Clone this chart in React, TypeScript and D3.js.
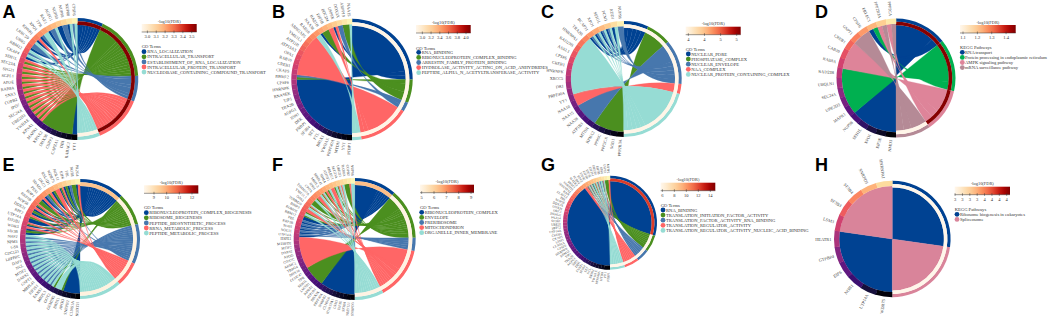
import React from 'react';
import * as d3 from 'd3';

const width = 1052;
const height = 319;
const serif = '"Liberation Serif", serif';

// term colours
const goColors = ['#004292', '#4b8f1f', '#4777ad', '#ff6666', '#96dcd4'];
const keggColorsD = ['#004292', '#00b050', '#de8499', '#b58a96'];
const keggColorsH = ['#004292', '#d9849a'];

// every gene is listed from the bottom of the circle up to the top,
// links holds the indexes of the terms it belongs to
const termsA = ['RNA_LOCALIZATION', 'INTRACELLULAR_TRANSPORT', 'ESTABLISHMENT_OF_RNA_LOCALIZATION', 'INTRACELLULAR_PROTEIN_TRANSPORT', 'NUCLEOBASE_CONTAINING_COMPOUND_TRANSPORT'];
const fdrA = [3.55, 3.55, 3.55, 3.55, 2.95];
const ticksA = [3.0, 3.1, 3.2, 3.3, 3.4, 3.5];
const genesA = ['YY1', 'RABAC1', 'DBI', 'CAPZA1', 'CSRP2', 'DHX36', 'KPNA2', 'MAPK1', 'KPNA1', 'YWHAE', 'UBE2D3', 'SEC24A', 'IPO7', 'COPB2', 'SNX3', 'RAB8A', 'APOE', 'SGPL1', 'SPG21', 'SEC23A', 'SEH1L', 'CKAP4', 'RBM12', 'UBR5', 'LRRC59', 'KPNB1', 'XPO1', 'TPR', 'RAE1', 'AGFG1', 'NUP50', 'NUP98', 'NUP88', 'CPSF6'];
const linksA = ['0', '1', '1', '1', '1', '1', '1', '13', '13', '13', '13', '13', '13', '13', '13', '13', '13', '13', '13', '13', '13', '04', '24', '02', '24', '03', '02', '4', '02', '24', '0', '2', '04', '24'];

const termsB = ['RNA_BINDING', 'RIBONUCLEOPROTEIN_COMPLEX_BINDING', 'ARRESTIN_FAMILY_PROTEIN_BINDING', 'HYDROLASE_ACTIVITY_ACTING_ON_ACID_ANHYDRIDES', 'PEPTIDE_ALPHA_N_ACETYLTRANSFERASE_ACTIVITY'];
const fdrB = [2.88, 2.88, 2.88, 2.88, 2.88];
const ticksB = [3.0, 3.2, 3.4, 3.6, 3.8, 4.0];
const genesB = ['PTBP1', 'YY1', 'MTDH', 'PRPF40A', 'YWHAE', 'BRIX1', 'FTL', 'SET', 'SF3B4', 'FNBP1', 'DEK', 'IDH1', 'AGFG1', 'TRA2B', 'TJP1', 'RNASEK', 'HNRNPK', 'CPSF6', 'RBM12', 'CKAP5', 'CREB1', 'RAB10', 'OPA1', 'ATP13A3', 'ATP11B', 'YME1L1', 'ARHGAP5', 'RAB18', 'NAA38', 'BAZ1B', 'EIF5B', 'PDCD4', 'USP9X', 'DDX3X', 'ARPP19', 'NAA15'];
const linksB = ['0', '0', '0', '0', '0', '0', '0', '0', '0', '0', '0', '0', '0', '0', '0', '0', '0', '0', '12', '3', '3', '3', '3', '3', '3', '3', '3', '3', '4', '01', '1', '3', '03', '2', '1', '14'];

const termsC = ['NUCLEAR_PORE', 'PHOSPHATASE_COMPLEX', 'NUCLEAR_ENVELOPE', 'NAA_COMPLEX', 'NUCLEAR_PROTEIN_CONTAINING_COMPLEX'];
const fdrC = [3.45, 3.45, 3.45, 3.45, 3.45];
const ticksC = [3.5, 4.0, 4.5, 5.0];
const genesC = ['PPP2R3A', 'SOD1', 'PPP2CA', 'PPP6C', 'KPNA2', 'MTDH', 'ATP1B3', 'NAA38', 'NAA15', 'NAA10', 'YY1', 'PRPF40A', 'DR1', 'XRCC5', 'HNRNPK', 'CREB1', 'CPSF6', 'ASXL1', 'RAD23B', 'HNRNPA1', 'TRA2B', 'BCAP31', 'XPO1', 'SEH1L', 'PCM1', 'ADD1', 'NUP98'];
const linksC = ['1', '1', '1', '1', '1', '2', '2', '2', '2', '3', '3', '4', '4', '4', '4', '4', '4', '4', '4', '4', '4', '024', '024', '024', '024', '04', '2'];

const termsD = ['RNA transport', 'Protein processing in endoplasmic reticulum', 'AMPK signaling pathway', 'mRNA surveillance pathway'];
const fdrD = [1.46, 1.46, 1.46, 1.085];
const ticksD = [1.1, 1.2, 1.3, 1.4];
const genesD = ['NMD3', 'EIF3E', 'XPO1', 'SEH1L', 'NUP98', 'MAPK1', 'UBE2D3', 'SEC24A', 'UBQLN1', 'RAD23B', 'RAB8A', 'CAB39', 'CREB1', 'GSPT1', 'CPSF6', 'ERLEC1', 'PPP2R3A', 'PPP2CA'];
const linksD = ['0', '0', '0', '0', '0', '1', '1', '1', '1', '1', '2', '2', '2', '3', '3', '01', '23', '23'];

const termsE = ['RIBONUCLEOPROTEIN_COMPLEX_BIOGENESIS', 'RIBOSOME_BIOGENESIS', 'PEPTIDE_BIOSYNTHETIC_PROCESS', 'RRNA_METABOLIC_PROCESS', 'PEPTIDE_METABOLIC_PROCESS'];
const fdrE = [9.6, 8.4, 8.4, 8.4, 8.4];
const ticksE = [9, 10, 11, 12];
const genesE = ['NUDT21', 'CLNS1A', 'SNRPB2', 'APOO', 'BRIX1', 'GEMIN5', 'GOT2', 'MRPL3', 'EARS2', 'EIF2S1', 'MRPL41', 'GSPT1', 'DARS2', 'MTIF2', 'NCL', 'DAP3', 'LRPPRC', 'CDC123', 'GSS', 'NPM3', 'NHP2', 'EIF3B', 'WDR3', 'EIF2B1', 'UTP14A', 'RPF2', 'DDX21', 'NOP58', 'RRP1B', 'BOP1', 'PES1', 'SDAD1', 'DKC1', 'RSL1D1', 'WDR75', 'NOL11', 'EIF6', 'FBL', 'NOB1', 'PA2G4'];
const linksE = ['0', '0', '0', '0', '14', '4', '14', '24', '24', '24', '24', '24', '24', '24', '24', '24', '24', '24', '24', '24', '24', '01', '03', '013', '0', '13', '01', '03', '013', '1', '03', '02', '13', '01', '3', '013', '01', '02', '1', '03'];

const termsF = ['RIBONUCLEOPROTEIN_COMPLEX', 'ENVELOPE', 'PRERIBOSOME', 'MITOCHONDRION', 'ORGANELLE_INNER_MEMBRANE'];
const fdrF = [6.4, 5.0, 5.0, 5.0, 5.0];
const ticksF = [5, 6, 7, 8, 9];
const genesF = ['SNRPD3', 'NUDT21', 'SF3B4', 'EIF3E', 'LSM3', 'HNRNPA1', 'CLNS1A', 'SNRPB2', 'PRPF40A', 'DDX3X', 'ATP1B3', 'KPNA2', 'LMNB1', 'SEH1L', 'TPR', 'CCDC47', 'DHX36', 'TBRG4', 'ARMC1', 'COX7C', 'APOO', 'DARS2', 'MTIF2', 'MTHFD2', 'HSPE1', 'UTP14A', 'NOL11', 'NOB1', 'RRP1B', 'FBL', 'RBM12', 'ROMO1', 'BNIP3', 'TOMM20', 'OPA1', 'YME1L1', 'TIMM17A', 'CPOX', 'IDH1', 'MRPL3', 'MRPL41', 'SDHA', 'ATP5F1', 'ERLEC1', 'SEC23A', 'UBE2J1', 'RAB8A', 'COPB2', 'NUP98'];
const linksF = ['0', '0', '0', '0', '0', '0', '0', '0', '0', '0', '1', '1', '1', '1', '1', '1', '3', '3', '3', '3', '3', '3', '3', '3', '3', '02', '02', '02', '02', '02', '0', '14', '13', '34', '134', '1', '14', '13', '34', '134', '13', '14', '3', '14', '134', '34', '1', '13', '4'];

const termsG = ['RNA_BINDING', 'TRANSLATION_INITIATION_FACTOR_ACTIVITY', 'TRANSLATION_FACTOR_ACTIVITY_RNA_BINDING', 'TRANSLATION_REGULATOR_ACTIVITY', 'TRANSLATION_REGULATOR_ACTIVITY_NUCLEIC_ACID_BINDING'];
const fdrG = [12.3, 5.8, 5.8, 5.8, 5.8];
const ticksG = [6, 8, 10, 12, 14];
const genesG = ['PTBP1', 'YY1', 'MTDH', 'PRPF40A', 'YWHAE', 'BRIX1', 'NCL', 'SET', 'SF3B4', 'FNBP1', 'DEK', 'IDH1', 'AGFG1', 'TRA2B', 'TJP1', 'RBM12', 'HNRNPK', 'CPSF6', 'CLNS1A', 'LSM3', 'CKAP5', 'CREB1', 'UTP14A', 'SRP72', 'UBE2I', 'SF3B1', 'PA2G4', 'ZNF622', 'DKC1', 'DDX21', 'DDX3X', 'NOP58', 'FBL', 'ELAVL1', 'RAN', 'HNRNPA1', 'SNRPD3', 'SRSF1', 'MATR3', 'PCBP2', 'RPF2', 'EIF4E', 'EIF3B', 'EIF3E', 'EIF2S1', 'EIF2B1', 'EIF5B', 'EIF6', 'GSPT1', 'MTIF2'];
const linksG = ['0', '0', '0', '0', '0', '0', '0', '0', '0', '0', '0', '0', '0', '0', '0', '0', '0', '0', '0', '0', '0', '0', '0', '0', '0', '0', '0', '0', '0', '0', '0', '0', '0', '0', '0', '0', '0', '0', '0', '0', '3', '1234', '1234', '124', '134', '1234', '24', '1234', '1', '13'];

const termsH = ['Ribosome biogenesis in eukaryotes', 'Spliceosome'];
const fdrH = [2.8, 2.8];
const ticksH = [2.8, 3.0, 3.2, 3.4, 3.6, 3.8, 4.0, 4.2];
const genesH = ['WDR75', 'UTP14A', 'NOB1', 'EIF6', 'GTPBP4', 'HEATR1', 'LSM3', 'SF3B3', 'SF3B4', 'SNRPD3', 'HNRNPA1'];
const linksH = ['0', '0', '0', '0', '0', '0', '1', '1', '1', '1', '1'];

type Panel = {
  letter: string; lx: number; ly: number;
  cx: number; cy: number; r: number; labelSize: number;
  genes: string[]; links: string[]; terms: string[]; fdr: number[]; ticks: number[];
  domain: number[]; colors: string[]; legendTitle: string;
  barX: number[]; barY: number; itemY: number; titleY: number; dotX: number; textX: number;
};

const panels: Panel[] = [
  { letter: 'A', lx: 2.5, ly: 17.5, cx: 77.3, cy: 79, r: 61, labelSize: 4.2, genes: genesA, links: linksA, terms: termsA, fdr: fdrA, ticks: ticksA, domain: [2.936, 3.556], colors: goColors, legendTitle: 'GO Terms', barX: [141.7, 196.7], barY: 24, itemY: 51.7, titleY: 48, dotX: 144, textX: 147.3 },
  { letter: 'B', lx: 272, ly: 17.5, cx: 352, cy: 79.5, r: 60.7, labelSize: 4.2, genes: genesB, links: linksB, terms: termsB, fdr: fdrB, ticks: ticksB, domain: [2.855, 4.107], colors: goColors, legendTitle: 'GO Terms', barX: [416, 470.7], barY: 25, itemY: 52.3, titleY: 49.5, dotX: 418.7, textX: 421.7 },
  { letter: 'C', lx: 541, ly: 17.5, cx: 623.7, cy: 79, r: 58, labelSize: 4.2, genes: genesC, links: linksC, terms: termsC, fdr: fdrC, ticks: ticksC, domain: [3.418, 5.124], colors: goColors, legendTitle: 'GO Terms', barX: [685.7, 740.7], barY: 26.7, itemY: 54, titleY: 50.5, dotX: 688.3, textX: 691.3 },
  { letter: 'D', lx: 815, ly: 17.5, cx: 896, cy: 78, r: 59.5, labelSize: 4.2, genes: genesD, links: linksD, terms: termsD, fdr: fdrD, ticks: ticksD, domain: [1.079, 1.467], colors: keggColorsD, legendTitle: 'KEGG Pathways', barX: [960, 1015.7], barY: 25, itemY: 52.3, titleY: 49, dotX: 962.3, textX: 965 },
  { letter: 'E', lx: 2.5, ly: 171, cx: 80, cy: 239, r: 60, labelSize: 4, genes: genesE, links: linksE, terms: termsE, fdr: fdrE, ticks: ticksE, domain: [8.21, 12.5], colors: goColors, legendTitle: 'GO Terms', barX: [144, 198.3], barY: 185.3, itemY: 212.7, titleY: 209, dotX: 146.3, textX: 149.3 },
  { letter: 'F', lx: 272, ly: 171, cx: 354.7, cy: 239, r: 61, labelSize: 3.6, genes: genesF, links: linksF, terms: termsF, fdr: fdrF, ticks: ticksF, domain: [4.865, 9.24], colors: goColors, legendTitle: 'GO Terms', barX: [420, 474], barY: 184.7, itemY: 212.3, titleY: 208.5, dotX: 421.7, textX: 424.7 },
  { letter: 'G', lx: 541, ly: 170.5, cx: 610, cy: 222.8, r: 47, labelSize: 3.3, genes: genesG, links: linksG, terms: termsG, fdr: fdrG, ticks: ticksG, domain: [5.72, 14.83], colors: goColors, legendTitle: 'GO Terms', barX: [660.7, 715.3], barY: 182.7, itemY: 210, titleY: 206.5, dotX: 663, textX: 666 },
  { letter: 'H', lx: 815, ly: 171, cx: 892.3, cy: 239, r: 58.3, labelSize: 4.4, genes: genesH, links: linksH, terms: termsH, fdr: fdrH, ticks: ticksH, domain: [2.79, 4.29], colors: keggColorsH, legendTitle: 'KEGG Pathways', barX: [954.7, 1010], barY: 186.7, itemY: 214.3, titleY: 210.5, dotX: 957, textX: 960 },
];

// ribbon whose two edges join start to start and end to end
const crossedRibbon = (a0: number, a1: number, ra: number, b0: number, b1: number, rb: number) => {
  const path = d3.path();
  const px = (r: number, a: number) => r * Math.sin(a);
  const py = (r: number, a: number) => -r * Math.cos(a);
  const off = -Math.PI / 2;
  path.moveTo(px(ra, a0), py(ra, a0));
  path.arc(0, 0, ra, a0 + off, a1 + off);
  path.quadraticCurveTo(0, 0, px(rb, b1), py(rb, b1));
  path.arc(0, 0, rb, b1 + off, b0 + off, true);
  path.quadraticCurveTo(0, 0, px(ra, a0), py(ra, a0));
  path.closePath();
  return path.toString();
};

type Seg = { term: number; u0: number; u1: number; g0: number; g1: number };

const Chord = ({ p }: { p: Panel }) => {
  const n = p.genes.length;
  const memberships = p.links.map((s) => s.split('').map(Number));
  const counts = p.terms.map((_, t) => memberships.filter((m) => m.includes(t)).length);
  const total = d3.sum(counts);

  // right half: terms, left half: genes
  const termAngle = d3.scaleLinear().domain([0, total]).range([0, Math.PI]);
  const geneAngle = d3.scaleLinear().domain([0, n]).range([Math.PI, 2 * Math.PI]);
  const geneColor = d3.scaleSequential(d3.interpolateMagma).domain([-0.2, n - 0.2]);
  const fdrColor = d3.scaleSequential(d3.interpolateOrRd).domain(p.domain);

  const rOuter = p.r;
  const rTerm = p.r * 0.945;
  const rChord = p.r * 0.885;
  const rGene = p.r * 0.91;

  const termStart = counts.map((_, i) => d3.sum(counts.slice(0, i)));
  const used = counts.map(() => 0);
  const arcGen = d3.arc<any>();

  // neighbouring genes of one term become one ribbon, otherwise seams show
  const segs: Seg[] = [];
  const lastOfTerm: (Seg | null)[] = p.terms.map(() => null);
  memberships.forEach((m, g) => {
    m.forEach((t, k) => {
      const u = termStart[t] + used[t];
      used[t] += 1;
      const g0 = g + k / m.length;
      const g1 = g + (k + 1) / m.length;
      const last = lastOfTerm[t];
      if (last && Math.abs(last.g1 - g0) < 1e-6) {
        last.u1 = u + 1;
        last.g1 = g1;
      } else {
        const seg = { term: t, u0: u, u1: u + 1, g0, g1 };
        segs.push(seg);
        lastOfTerm[t] = seg;
      }
    });
  });
  segs.sort((a, b) => a.term - b.term);

  const barScale = d3.scaleLinear().domain(p.domain).range(p.barX);
  const barH = 8;
  const gradId = `grad${p.letter}`;

  return (
    <g>
      <text x={p.lx} y={p.ly} fontFamily='"Liberation Sans", sans-serif' fontWeight="bold" fontSize={18}>{p.letter}</text>
      <g transform={`translate(${p.cx},${p.cy})`}>
        {segs.map((s, i) => (
          <path
            key={i}
            d={crossedRibbon(termAngle(s.u0), termAngle(s.u1), rChord, geneAngle(s.g0), geneAngle(s.g1), rGene)}
            fill={p.colors[s.term]}
            stroke={p.colors[s.term]}
            strokeWidth={0.3}
          />
        ))}
        {p.terms.map((t, i) => (
          <g key={t}>
            <path
              d={arcGen({ innerRadius: rTerm, outerRadius: rOuter, startAngle: termAngle(termStart[i]), endAngle: termAngle(termStart[i] + counts[i]) }) as string}
              fill={p.colors[i]}
            />
            <path
              d={arcGen({ innerRadius: rChord, outerRadius: rTerm, startAngle: termAngle(termStart[i]), endAngle: termAngle(termStart[i] + counts[i]) }) as string}
              fill={fdrColor(p.fdr[i])}
            />
          </g>
        ))}
        {p.genes.map((g, i) => {
          const mid = (geneAngle(i) + geneAngle(i + 1)) / 2;
          const deg = (mid * 180) / Math.PI;
          const lr = p.r + 2.5;
          return (
            <g key={g + i}>
              <path
                d={arcGen({ innerRadius: rGene, outerRadius: rOuter, startAngle: geneAngle(i), endAngle: geneAngle(i + 1) + 0.005 }) as string}
                fill={geneColor(i) as string}
              />
              <text
                transform={`translate(${lr * Math.sin(mid)},${-lr * Math.cos(mid)}) rotate(${deg - 270})`}
                textAnchor="end"
                dy="0.35em"
                fontFamily={serif}
                fontSize={p.labelSize}
                fill="#444"
              >{g}</text>
            </g>
          );
        })}
      </g>

      <defs>
        <linearGradient id={gradId}>
          {d3.range(0, 1.01, 0.1).map((t) => (
            <stop key={t} offset={t} stopColor={d3.interpolateOrRd(t)} />
          ))}
        </linearGradient>
      </defs>
      <text x={(p.barX[0] + p.barX[1]) / 2} y={p.barY - 1.5} textAnchor="middle" fontFamily={serif} fontSize={4.4} fill="#333">-log10(FDR)</text>
      <rect x={p.barX[0]} y={p.barY} width={p.barX[1] - p.barX[0]} height={barH} fill={`url(#${gradId})`} />
      <line x1={p.barX[0]} x2={p.barX[1]} y1={p.barY + barH} y2={p.barY + barH} stroke="#333" strokeWidth={0.5} />
      {p.ticks.map((t) => (
        <g key={t} transform={`translate(${barScale(t)},${p.barY + barH})`}>
          <line y1={-1.5} y2={1.2} stroke="#333" strokeWidth={0.5} />
          <text y={6} textAnchor="middle" fontFamily={serif} fontSize={4.5} fill="#333">{d3.format(Number.isInteger(p.ticks[1]) ? 'd' : '.1f')(t)}</text>
        </g>
      ))}
      <text x={p.barX[0]} y={p.titleY} fontFamily={serif} fontSize={4.6} fill="#333">{p.legendTitle}</text>
      {p.terms.map((t, i) => (
        <g key={t} transform={`translate(0,${p.itemY + i * 5.1})`}>
          <circle cx={p.dotX} cy={0} r={2.4} fill={p.colors[i]} />
          <text x={p.textX} y={1.6} fontFamily={serif} fontSize={4.6} fill="#333">{t}</text>
        </g>
      ))}
    </g>
  );
};

export default function App() {
  return (
    <svg width={width} height={height} style={{ position: 'absolute', left: 0, top: 0, background: '#fff' }}>
      {panels.map((p) => (
        <Chord key={p.letter} p={p} />
      ))}
    </svg>
  );
}
